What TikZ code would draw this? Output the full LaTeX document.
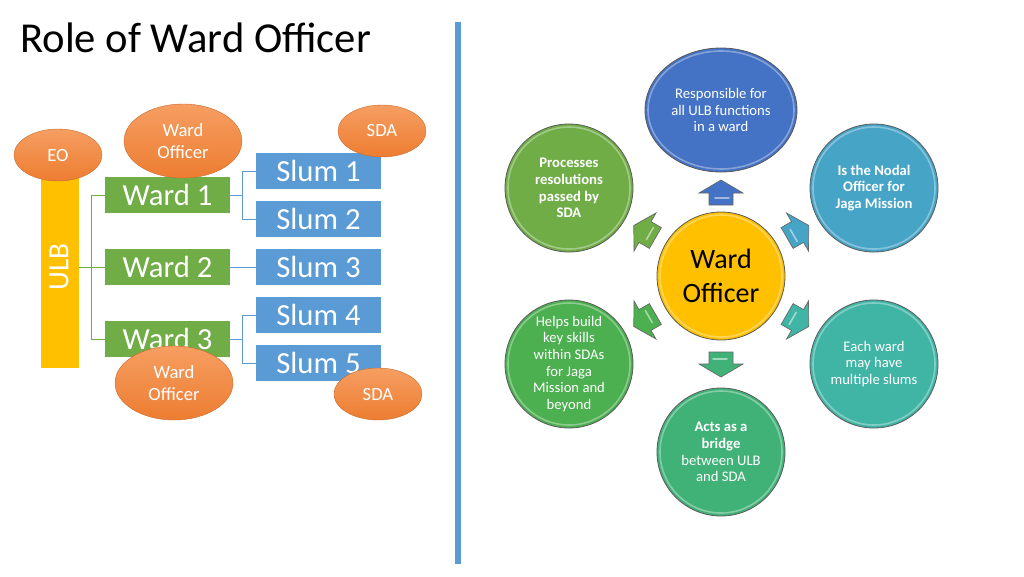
\documentclass[tikz,border=0pt]{standalone}
\usepackage{fontspec}
\setmainfont{Carlito}
\usepackage{tikz}
\usetikzlibrary{shapes.geometric,calc}

\definecolor{wardgreen}{RGB}{112,173,71}
\definecolor{slumblue}{RGB}{91,155,213}
\definecolor{ulbgold}{RGB}{255,192,0}
\definecolor{eoorange}{RGB}{237,125,49}
\definecolor{eolight}{RGB}{246,158,98}
\definecolor{roleblue}{RGB}{68,114,196}
\definecolor{roleteal}{RGB}{70,164,199}
\definecolor{roleaqua}{RGB}{64,181,166}
\definecolor{rolemint}{RGB}{64,178,120}
\definecolor{rolegreen}{RGB}{76,175,80}
\definecolor{roleolive}{RGB}{112,173,71}

\tikzset{
  wardbox/.style={rectangle, fill=wardgreen, text=white, minimum width=93.75pt, minimum height=27pt, inner sep=0pt, font=\fontsize{23}{26}\selectfont},
  slumbox/.style={wardbox, fill=slumblue},
  wardline/.style={draw=wardgreen, line width=0.75pt},
  slumline/.style={draw=slumblue, line width=0.75pt},
  bubble/.style={ellipse, draw=eoorange!85!black, line width=0.3pt, top color=eolight, bottom color=eoorange, text=white, inner sep=0pt, align=center, font=\fontsize{14}{17}\selectfont},
  smallbubble/.style={bubble, minimum width=66pt, minimum height=39pt},
  bigbubble/.style={bubble, minimum width=88.5pt, minimum height=55.5pt},
  role/.style={circle, draw=black!65, line width=0.6pt, text=white, align=center, minimum size=96pt, inner sep=0pt, font=\fontsize{11}{12.5}\selectfont},
  rolebold/.style={role, font=\fontsize{11}{12.5}\selectfont\bfseries},
  rim/.style={draw=white, opacity=0.35, line width=1.2pt},
  blockarrow/.pic={
    \draw[fill=#1, draw=black!60, line width=0.5pt] (-12,-12) -- (0,-12) -- (0,-22) -- (13,0) -- (0,22) -- (0,12) -- (-12,12) -- cycle;
    \draw[white, opacity=0.5, line width=1.2pt, line cap=round] (-5,-8) -- (-5,6);
  }
}

\begin{document}
\begin{tikzpicture}[x=0.75pt,y=0.75pt,yscale=-1,xscale=1]
\useasboundingbox (0,0) rectangle (1024,576);

%Title
\node[anchor=base west, inner sep=0pt, font=\fontsize{32}{38}\selectfont] (title) at (20,52) {Role of Ward Officer};

%Divider
\draw[slumblue, line width=4.5pt] (458,22) -- (458,564);

%ULB bar
\node[fill=ulbgold, minimum width=28.5pt, minimum height=163.5pt, inner sep=0pt] (ulb) at (60,259) {};
\node[rotate=90, text=white, font=\fontsize{22}{26}\selectfont] (ulbtext) at (59,267) {ULB};

%Wards
\node[wardbox] (w1) at (167.5,195) {Ward 1};
\node[wardbox] (w2) at (167.5,267) {Ward 2};
\node[wardbox] (w3) at (167.5,339) {Ward 3};

%Slums
\node[slumbox] (s1) at (318.5,171) {Slum 1};
\node[slumbox] (s2) at (318.5,219) {Slum 2};
\node[slumbox] (s3) at (318.5,267) {Slum 3};
\node[slumbox] (s4) at (318.5,315) {Slum 4};
\node[slumbox] (s5) at (318.5,363) {Slum 5};

%Tree lines
\draw[wardline] (ulb.east |- w2.west) -- (w2.west);
\draw[wardline] (w1.west) -- ++(-13,0) |- (w3.west);
\draw[slumline] (w1.east) -- ++(13,0);
\draw[slumline] (s1.west) -- ++(-13,0) |- (s2.west);
\draw[slumline] (w2.east) -- (s3.west);
\draw[slumline] (w3.east) -- ++(13,0);
\draw[slumline] (s4.west) -- ++(-13,0) |- (s5.west);

%Officers
\node[smallbubble] (eo) at (58,155) {EO};
\node[bigbubble] (wo1) at (183,141) {Ward\\Officer};
\node[smallbubble] (sda1) at (382,131) {SDA};
\node[bigbubble] (wo3) at (174,383) {Ward\\Officer};
\node[smallbubble] (sda3) at (378,394) {SDA};

%Role circles
\node[role, fill=ulbgold, text=black, font=\fontsize{21}{25}\selectfont] (wo) at (721,276) {Ward\\Officer};
\node[role, ellipse, fill=roleblue, minimum width=114pt, minimum height=93pt] (r1) at (721,110) {Responsible for\\all ULB functions\\in a ward};
\node[rolebold, fill=roleteal] (r2) at (874,188) {Is the Nodal\\Officer for\\Jaga Mission};
\node[role, fill=roleaqua] (r3) at (874,364) {Each ward\\may have\\multiple slums};
\node[role, fill=rolemint] (r4) at (721,452) {\textbf{Acts as a}\\\textbf{bridge}\\between ULB\\and SDA};
\node[role, fill=rolegreen] (r5) at (569,364) {Helps build\\key skills\\within SDAs\\for Jaga\\Mission and\\beyond};
\node[rolebold, fill=roleolive] (r6) at (569,188) {Processes\\resolutions\\passed by\\SDA};

\foreach \n/\rx/\ry in {wo/61/61, r1/73/59, r2/61/61, r3/61/61, r4/61/61, r5/61/61, r6/61/61}
  \draw[rim] (\n.center) ellipse ({\rx} and {\ry});

%Arrows
\pic[rotate=90] at ($(wo)!0.5!(r1)$) {blockarrow=roleblue};
\pic[rotate=30] at ($(wo)!0.5!(r2)$) {blockarrow=roleteal};
\pic[rotate=-30] at ($(wo)!0.5!(r3)$) {blockarrow=roleaqua};
\pic[rotate=-90] at ($(wo)!0.5!(r4)$) {blockarrow=rolemint};
\pic[rotate=-150] at ($(wo)!0.5!(r5)$) {blockarrow=rolegreen};
\pic[rotate=150] at ($(wo)!0.5!(r6)$) {blockarrow=roleolive};
\end{tikzpicture}
\end{document}
